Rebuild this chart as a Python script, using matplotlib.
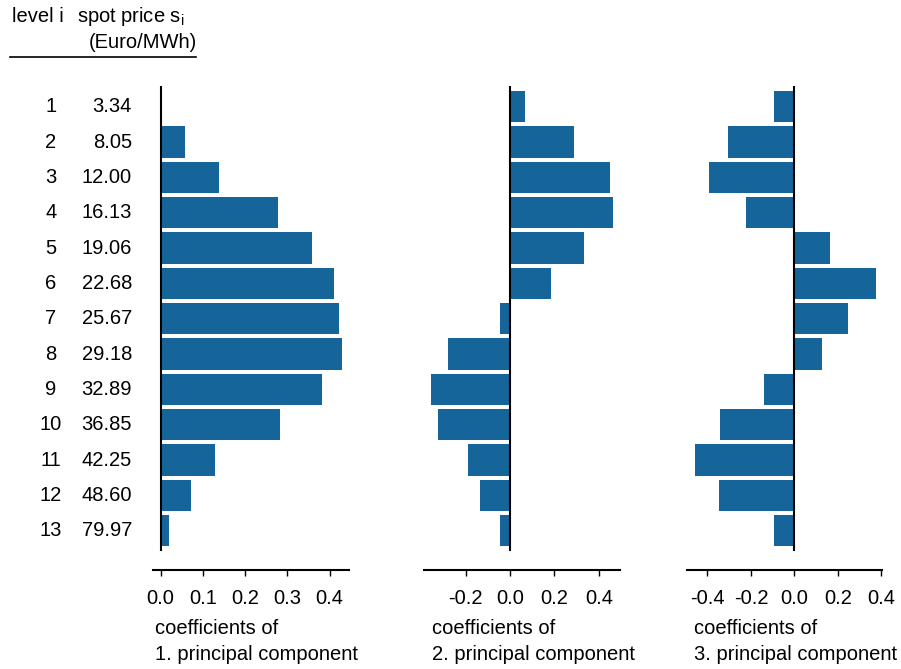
import matplotlib
matplotlib.use("Agg")
import matplotlib.pyplot as plt
import numpy as np

plt.rcParams['font.family'] = ['Liberation Sans', 'DejaVu Sans']
plt.rcParams['mathtext.fontset'] = 'custom'
plt.rcParams['mathtext.rm'] = 'Liberation Sans'

levels = list(range(1, 14))
prices = ["3.34", "8.05", "12.00", "16.13", "19.06", "22.68", "25.67",
          "29.18", "32.89", "36.85", "42.25", "48.60", "79.97"]

pc1 = [0.004, 0.058, 0.138, 0.279, 0.358, 0.411, 0.423, 0.430, 0.383,
       0.283, 0.129, 0.073, 0.020]
pc2 = [0.068, 0.287, 0.448, 0.463, 0.335, 0.183, -0.046, -0.278, -0.357,
       -0.326, -0.188, -0.135, -0.046]
pc3 = [-0.096, -0.305, -0.395, -0.221, 0.163, 0.375, 0.246, 0.125, -0.140,
       -0.340, -0.459, -0.346, -0.093]

ticks1 = [0.0, 0.1, 0.2, 0.3, 0.4]
ticks2 = [-0.2, 0.0, 0.2, 0.4]
ticks3 = [-0.4, -0.2, 0.0, 0.2, 0.4]

W, H = 901, 669
fig = plt.figure(figsize=(W / 100, H / 100), dpi=100)

color = "#16659a"
fs = 14.5

top_px, bot_px = 86, 570
ylim = (14.11, 0.414)

panels = [
    (pc1, ticks1, (-0.018, 0.446), (153, 349), 155, "1. principal component"),
    (pc2, ticks2, (-0.387, 0.495), (424, 620), 432, "2. principal component"),
    (pc3, ticks3, (-0.494, 0.403), (687, 882), 694, "3. principal component"),
]

for vals, ticks, xl, (x0, x1), lab_x, lab in panels:
    ax = fig.add_axes([x0 / W, 1 - bot_px / H, (x1 - x0) / W, (bot_px - top_px) / H])
    ax.barh(levels, vals, height=0.89, color=color, edgecolor='none')
    ax.plot([0, 0], [0.414, 13.54], color='black', lw=1.5)
    ax.set_xlim(*xl)
    ax.set_ylim(*ylim)
    for s in ['top', 'right', 'left']:
        ax.spines[s].set_visible(False)
    ax.spines['bottom'].set_linewidth(1.5)
    ax.set_yticks([])
    ax.set_xticks(ticks)
    ax.set_xticklabels([f"{t:.1f}" for t in ticks], fontsize=fs)
    ax.tick_params(axis='x', length=4, width=1, pad=10)
    fig.text(lab_x / W, 1 - 629 / H, "coefficients of", fontsize=fs,
             ha='left', va='center')
    fig.text(lab_x / W, 1 - 655 / H, lab, fontsize=fs, ha='left', va='center')

# left table
for i, (lv, pr) in enumerate(zip(levels, prices)):
    y = 106.7 + i * 35.33
    fig.text(51 / W, 1 - y / H, str(lv), fontsize=fs, ha='center', va='center')
    fig.text(132 / W, 1 - y / H, pr, fontsize=fs, ha='right', va='center')

fig.text(12 / W, 1 - 17 / H, "level i", fontsize=fs, ha='left', va='center')
fig.text(77 / W, 1 - 17 / H, r"spot price s$_{\mathregular{i}}$", fontsize=fs,
         ha='left', va='center')
fig.text(197 / W, 1 - 42 / H, "(Euro/MWh)", fontsize=fs, ha='right', va='center')
fig.add_artist(plt.Line2D([10 / W, 196 / W], [1 - 57 / H, 1 - 57 / H],
                          color='black', lw=1.2, transform=fig.transFigure))

fig.savefig("out.png", dpi=100)
